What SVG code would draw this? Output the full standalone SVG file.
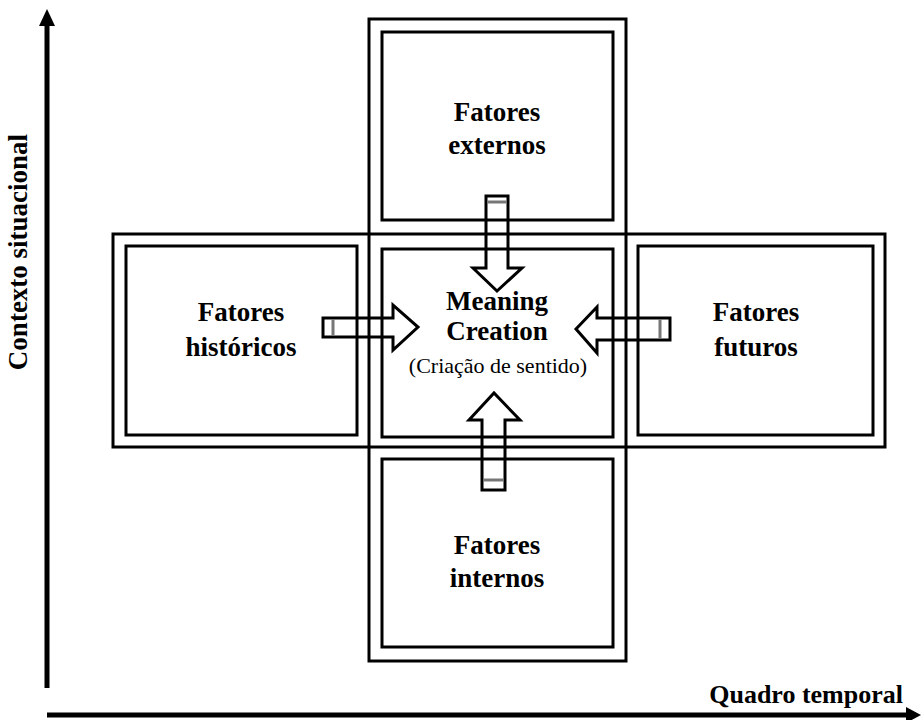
<svg xmlns="http://www.w3.org/2000/svg" width="922" height="720" viewBox="0 0 922 720">
<style>
.box{fill:none;stroke:#000;stroke-width:3}
.arr{fill:none;stroke:#000;stroke-width:3;stroke-linejoin:miter}
.band{fill:none;stroke:#777;stroke-width:3}
.lbl{font-family:"Liberation Serif","Times New Roman",serif;font-weight:bold;font-size:27px;text-anchor:middle;fill:#000}
.sub{font-family:"Liberation Serif","Times New Roman",serif;font-size:22px;text-anchor:middle;fill:#000}
.ax{font-family:"Liberation Serif","Times New Roman",serif;font-weight:bold;font-size:26px;fill:#000}
</style>
<rect width="922" height="720" fill="#fff"/>
<g id="frame">
<rect class="box" x="369" y="19" width="257" height="642"/>
<rect class="box" x="113" y="234" width="772" height="213"/>
</g>
<g id="externos">
<rect class="box" x="382" y="32" width="231" height="188"/>
<text class="lbl" x="497" y="121">Fatores</text>
<text class="lbl" x="497" y="154">externos</text>
</g>
<g id="historicos">
<rect class="box" x="126" y="246" width="231" height="189"/>
<text class="lbl" x="241" y="321">Fatores</text>
<text class="lbl" x="241" y="356">históricos</text>
</g>
<g id="futuros">
<rect class="box" x="638" y="246" width="235" height="189"/>
<text class="lbl" x="756" y="321">Fatores</text>
<text class="lbl" x="756" y="356">futuros</text>
</g>
<g id="meaning">
<rect class="box" x="382" y="249" width="231" height="188"/>
<text class="lbl" x="497" y="310">Meaning</text>
<text class="lbl" x="497" y="340">Creation</text>
<text class="sub" x="498" y="373">(Criação de sentido)</text>
</g>
<g id="internos">
<rect class="box" x="382" y="459" width="231" height="188"/>
<text class="lbl" x="497" y="554">Fatores</text>
<text class="lbl" x="497" y="587">internos</text>
</g>
<g id="connectors">
<polygon class="arr" points="486,196 508,196 508,268 522,268 497,291 473,268 486,268"/>
<line class="band" x1="487" y1="202" x2="507" y2="202"/>
<polygon class="arr" points="323,318 393,318 393,305 418,327 393,350 393,337 323,337"/>
<line class="band" x1="333" y1="319" x2="333" y2="336"/>
<polygon class="arr" points="670,318 597,318 597,307 576,329 597,353 597,340 670,340"/>
<line class="band" x1="660" y1="319" x2="660" y2="339"/>
<polygon class="arr" points="482,490 505,490 505,420 520,420 494,393 469,420 482,420"/>
<line class="band" x1="483" y1="480" x2="504" y2="480"/>
</g>
<g id="axes">
<line x1="47" y1="688" x2="47" y2="24" stroke="#000" stroke-width="5"/>
<polygon points="47,9 55,26 39,26" fill="#000"/>
<line x1="47" y1="715" x2="908" y2="715" stroke="#000" stroke-width="5"/>
<polygon points="921,715 906,707 906,723" fill="#000"/>
<text class="ax" x="903" y="703" text-anchor="end">Quadro temporal</text>
<text class="ax" transform="translate(27,252) rotate(-90)" text-anchor="middle" style="font-size:27px">Contexto situacional</text>
</g>
</svg>
